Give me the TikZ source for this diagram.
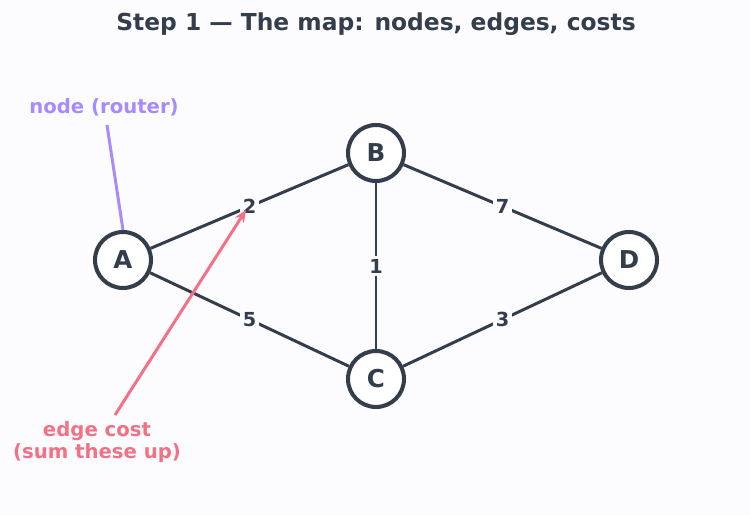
\documentclass[tikz,border=0pt]{standalone}
\usepackage{fontspec}
\setmainfont{DejaVu Sans}
\usepackage{xcolor}
\usetikzlibrary{arrows.meta, positioning}
\definecolor{PageBg}{RGB}{252, 252, 254}
\definecolor{SlateDark}{RGB}{52, 61, 75}
\definecolor{RouterPurple}{RGB}{167, 139, 250}
\definecolor{CostPink}{RGB}{244, 113, 133}
\tikzset{
    router/.style={circle, draw=SlateDark, line width=2.3pt, fill=white, minimum size=1.12cm, inner sep=0pt, font=\fontsize{14}{16}\selectfont\bfseries, text=SlateDark},
    link/.style={draw=SlateDark, line width=1.7pt},
    cost/.style={fill=PageBg, inner sep=1.5pt, font=\fontsize{11}{12}\selectfont\bfseries, text=SlateDark},
    note/.style={font=\fontsize{11.2}{13}\selectfont\bfseries, align=center},
}

\begin{document}
\begin{tikzpicture}[x=0.02cm, y=0.02cm]
    % background sets the page size
    \fill[PageBg] (0,0) rectangle (750,514);
    \node[font=\fontsize{13.3}{15}\selectfont\bfseries, text=SlateDark] (title) at (376,490) {Step 1 — The map: nodes, edges, costs};

    % routers
    \node[router] (A) at (123,254) {A};
    \node[router] (B) at (376,361) {B};
    \node[router] (C) at (376,135) {C};
    \node[router] (D) at (629,254) {D};

    % links with costs
    \draw[link] (A) -- node[cost] (cAB) {2} (B);
    \draw[link] (B) -- node[cost] (cBD) {7} (D);
    \draw[link] (B) -- node[cost] (cBC) {1} (C);
    \draw[link] (A) -- node[cost] (cAC) {5} (C);
    \draw[link] (C) -- node[cost] (cCD) {3} (D);

    % annotations
    \node[note, text=RouterPurple] (nodeNote) at (104,407) {node (router)};
    \draw[RouterPurple, line width=1.7pt] (107,389) -- (A.north);
    \node[note, text=CostPink] (costNote) at (97,72) {edge cost\\(sum these up)};
    \coordinate (costTip) at (246,304);
    \draw[CostPink, line width=1.7pt, -{Stealth[length=7pt, width=6pt]}] (115,99) -- (costTip);
\end{tikzpicture}
\end{document}
